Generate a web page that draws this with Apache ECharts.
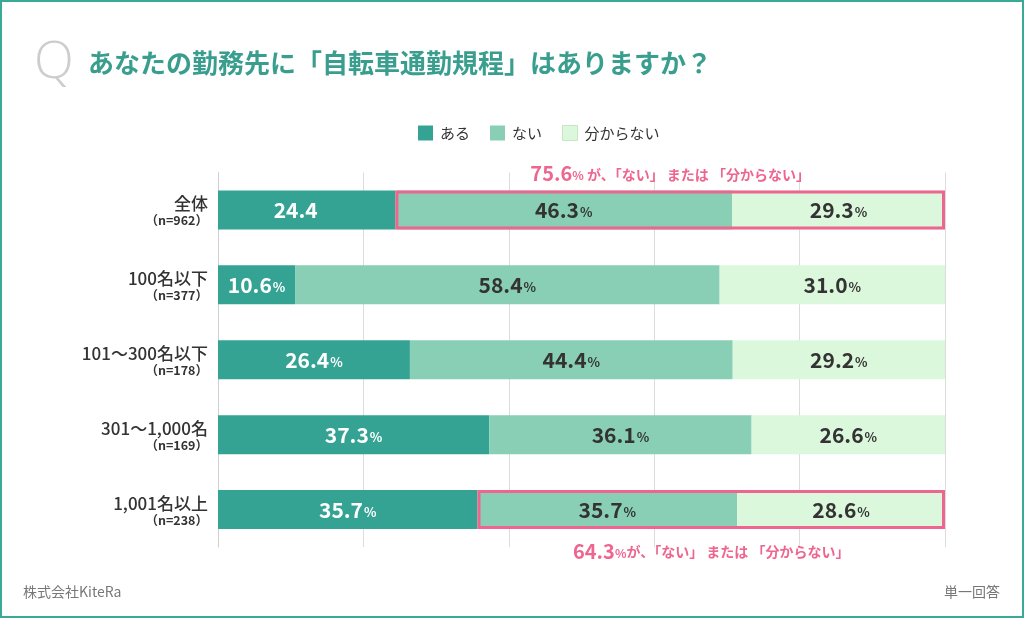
<!DOCTYPE html>
<html><head><meta charset="utf-8">
<script src="https://cdn.jsdelivr.net/npm/echarts@6/dist/echarts.min.js"></script>
<style>html,body{margin:0;padding:0;background:#fff}#c{width:1024px;height:618px}</style>
</head><body><div id="c"></div>
<script>
const categories = ['全体', '100名以下', '101～300名以下', '301～1,000名', '1,001名以上'];
const sampleSizes = ['962', '377', '178', '169', '238'];
const seriesNames = ['ある', 'ない', '分からない'];
const aru = [24.4, 10.6, 26.4, 37.3, 35.7];
const nai = [46.3, 58.4, 44.4, 36.1, 35.7];
const wakaranai = [29.3, 31.0, 29.2, 26.6, 28.6];
const aruShowPct = [false, true, true, true, true];
const highlightRows = [0, 4];
const highlightPos = ['top', 'bottom'];

const FONT = '"Noto Sans CJK JP", "Noto Sans", sans-serif';
const PINK = '#ee6590';
const colors = ['#35a394', '#88cfb6', '#dcf8dc'];

const chart = echarts.init(document.getElementById('c'), null, {renderer: 'canvas'});

function barLabel(color, pctArr) {
  return {
    show: true, position: 'inside', color: color, fontFamily: FONT,
    formatter: p => {
      const v = p.value.toFixed(1);
      const showPct = pctArr ? pctArr[p.dataIndex] : true;
      return showPct ? '{n|' + v + '}{p|%}' : '{m|' + v + '}';
    },
    rich: {
      n: {fontSize: 21, fontWeight: 'bold', color: color, fontFamily: FONT},
      m: {fontSize: 21, fontWeight: 'bold', color: color, fontFamily: FONT, padding: [0, 22, 0, 0]},
      p: {fontSize: 13, fontWeight: 'bold', color: color, fontFamily: FONT, padding: [5, 0, 0, 1]}
    }
  };
}

const ys = categories.map((c, i) => '{a|' + c + '}\n{b|（n=' + sampleSizes[i] + '）}');

const baseData = categories.map((c, i) => highlightRows.includes(i) ? aru[i] : '-');
const outlineData = categories.map((c, i) => {
  const k = highlightRows.indexOf(i);
  if (k < 0) return '-';
  const val = +(nai[i] + wakaranai[i]).toFixed(1);
  return {
    value: val,
    label: {
      show: true, position: highlightPos[k], distance: highlightPos[k] === 'top' ? 7 : 12,
      formatter: p => '{big|' + p.value.toFixed(1) + '}{pct|%}' + (highlightPos[k] === 'top' ? '{t| が、「ない」 または 「分からない」}' : '{t|が、「ない」 または 「分からない」}'),
      rich: {
        big: {fontSize: 20, fontWeight: 'bold', color: PINK, fontFamily: FONT},
        pct: {fontSize: 12, fontWeight: 'bold', color: PINK, fontFamily: FONT, padding: [4, 0, 0, 0]},
        t: {fontSize: 14, fontWeight: 'bold', color: PINK, fontFamily: FONT, padding: [2, 0, 0, 0]}
      }
    }
  };
});

const option = {
  animation: false,
  textStyle: {fontFamily: FONT},
  title: {
    left: 88, top: 50, padding: 0,
    text: 'あなたの勤務先に「自転車通勤規程」はありますか？',
    textStyle: {fontSize: 26, color: '#3a9e8f', fontWeight: 'bold', fontFamily: FONT}
  },
  legend: {
    left: 418, top: 125, padding: 0,
    icon: 'rect',
    itemWidth: 15, itemHeight: 15, itemGap: 20,
    textStyle: {fontSize: 15, color: '#333', fontFamily: FONT, padding: [0, 0, 0, 2]},
    data: [
      {name: seriesNames[0]},
      {name: seriesNames[1]},
      {name: seriesNames[2], itemStyle: {borderColor: '#c6e6c6', borderWidth: 1}}
    ],
    selectedMode: false
  },
  grid: {left: 218, right: 79, top: 172.5, bottom: 71, containLabel: false},
  xAxis: {
    type: 'value', min: 0, max: 100, interval: 20,
    axisLabel: {show: false}, axisTick: {show: false}, axisLine: {show: false},
    splitLine: {show: true, lineStyle: {color: '#dcdcdc', width: 1}}
  },
  yAxis: {
    type: 'category', data: ys, inverse: true,
    axisTick: {show: false},
    axisLine: {show: true, lineStyle: {color: '#d0d0d0', width: 1}},
    axisLabel: {
      margin: 10, align: 'right',
      rich: {
        a: {fontSize: 17, color: '#333', fontWeight: 500, fontFamily: FONT, align: 'right', lineHeight: 21, padding: [4, 0, 0, 0]},
        b: {fontSize: 12.5, color: '#333', fontWeight: 'bold', fontFamily: FONT, align: 'right', lineHeight: 16}
      }
    }
  },
  series: [
    {name: seriesNames[0], type: 'bar', stack: 'a', data: aru, barWidth: 39, barGap: '-100%',
     itemStyle: {color: colors[0]}, label: barLabel('#ffffff', aruShowPct), silent: true},
    {name: seriesNames[1], type: 'bar', stack: 'a', data: nai, barWidth: 39, barGap: '-100%',
     itemStyle: {color: colors[1]}, label: barLabel('#333333'), silent: true},
    {name: seriesNames[2], type: 'bar', stack: 'a', data: wakaranai, barWidth: 39, barGap: '-100%',
     itemStyle: {color: colors[2]}, label: barLabel('#333333'), silent: true},
    {name: 'base', type: 'bar', stack: 'o', data: baseData, barWidth: 39, barGap: '-100%', z: 5,
     itemStyle: {color: 'transparent'}, label: {show: false}, silent: true},
    {name: 'outline', type: 'bar', stack: 'o', data: outlineData, barWidth: 39, barGap: '-100%', z: 5,
     itemStyle: {color: 'transparent', borderColor: PINK, borderWidth: 3}, silent: true}
  ],
  graphic: [
    {type: 'rect', shape: {x: 1, y: 1, width: 1022, height: 616}, style: {fill: 'none', stroke: '#3aa996', lineWidth: 2}, silent: true},
    {type: 'text', x: 34, y: 63, style: {text: 'Q', fontSize: 52, fill: '#cdcdcd', fontWeight: 300, fontFamily: '"Open Sans", "Noto Sans", sans-serif', verticalAlign: 'middle'}},
    {type: 'text', left: 23, top: 585, style: {text: '株式会社KiteRa', fontSize: 14, fill: '#777', fontFamily: FONT}},
    {type: 'text', right: 24, top: 585, style: {text: '単一回答', fontSize: 14, fill: '#777', fontFamily: FONT}}
  ]
};
chart.setOption(option);
</script></body></html>
